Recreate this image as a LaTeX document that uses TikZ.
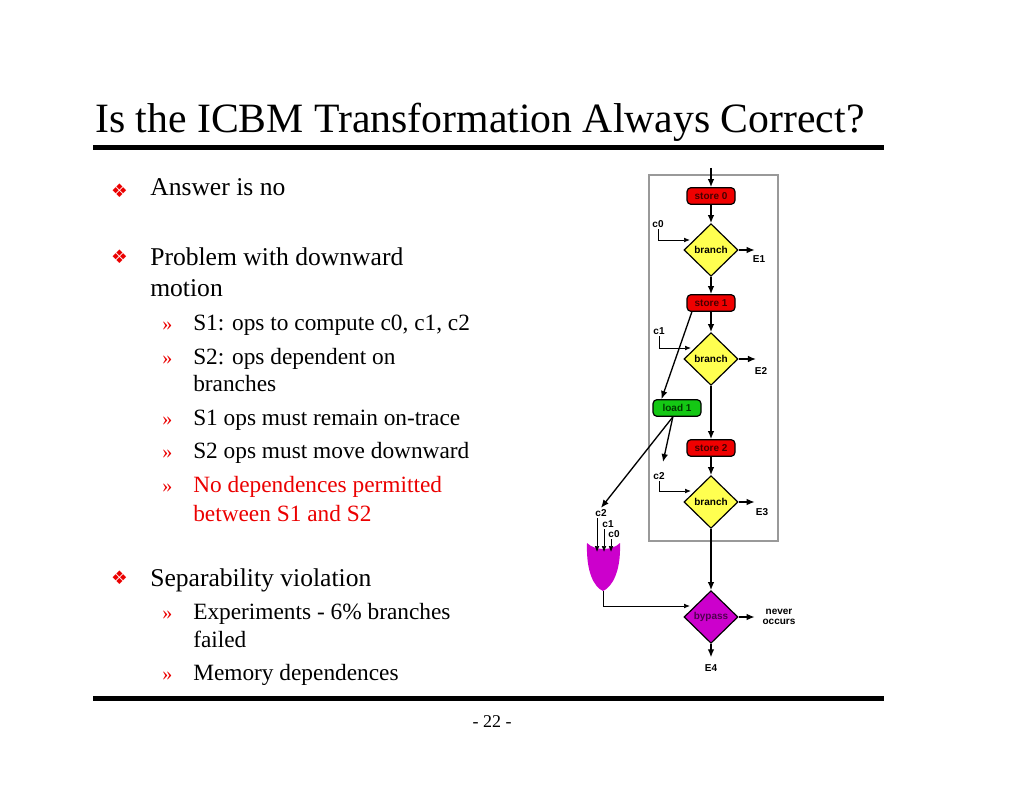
\documentclass[tikz,border=0pt]{standalone}
\usepackage{fontspec}
\setmainfont{Liberation Serif}
\setsansfont{Liberation Sans}
\newfontfamily\symfont{DejaVu Sans}
\usetikzlibrary{shapes.geometric,positioning,arrows.meta,arrows}
\definecolor{opred}{RGB}{240,0,0}
\definecolor{opredtext}{RGB}{70,0,0}
\definecolor{opgreen}{RGB}{20,200,20}
\definecolor{opgreentext}{RGB}{0,60,0}
\definecolor{bryellow}{RGB}{255,255,80}
\definecolor{gatepurple}{RGB}{204,0,204}
\definecolor{gatetext}{RGB}{80,0,80}
\definecolor{slidered}{RGB}{235,0,0}
\tikzset{
  slidetitle/.style={anchor=base west,inner sep=0pt,font=\fontsize{31.3}{36}\selectfont},
  bul/.style={anchor=base west,inner sep=0pt,font=\fontsize{19.2}{23}\selectfont},
  subbul/.style={anchor=base west,inner sep=0pt,font=\fontsize{17.5}{21}\selectfont},
  dia/.style={inner sep=0pt,text=slidered,font=\symfont\fontsize{14}{15}\selectfont},
  chev/.style={anchor=base west,inner sep=0pt,text=slidered,font=\fontsize{15}{16}\selectfont},
  tiny/.style={font=\sffamily\bfseries\fontsize{7.5}{8.5}\selectfont,inner sep=1pt},
  opbox/.style={tiny,rectangle,rounded corners=3pt,draw=black,line width=0.9pt,
    minimum width=36pt,minimum height=12.5pt,inner sep=0pt},
  store/.style={opbox,fill=opred,text=opredtext},
  load/.style={opbox,fill=opgreen,text=opgreentext},
  test/.style={tiny,diamond,draw=black,line width=0.9pt,fill=bryellow,
    minimum width=40.5pt,minimum height=39.5pt,inner sep=0pt},
  flow/.style={-{Latex[length=6pt,width=5pt]},line width=1pt},
  cond/.style={-{Latex[length=4.5pt,width=3.5pt]},line width=0.5pt}
}

\begin{document}
\begin{tikzpicture}[x=0.75pt,y=-0.75pt]
\useasboundingbox (0,0) rectangle (1024,791);

\node[slidetitle] (title) at (95,133) {Is the ICBM Transformation Always Correct?};
\draw[line width=3.75pt] (93,147.5) -- (884,147.5);
\draw[line width=3.75pt] (93,698) -- (884,698);
\node[anchor=base,inner sep=0pt,font=\fontsize{13.5}{16}\selectfont] (pageno) at (492,727) {- 22 -};

\node[dia] (d1) at (119.5,191) {❖};
\node[bul] (t1) at (150,196) {Answer is no};
\node[dia] (d2) at (119.5,257) {❖};
\node[bul] (t2) at (150,266) {Problem with downward};
\node[bul] (t2b) at (150,297) {motion};
\node[chev] (m1) at (162,331) {»};
\node[subbul] (u1) at (193,331) {S1: ops to compute c0, c1, c2};
\node[chev] (m2) at (162,364) {»};
\node[subbul] (u2) at (193,364) {S2: ops dependent on};
\node[subbul] (u2b) at (193,392) {branches};
\node[chev] (m3) at (162,425) {»};
\node[subbul] (u3) at (193,425) {S1 ops must remain on-trace};
\node[chev] (m4) at (162,458) {»};
\node[subbul] (u4) at (193,458) {S2 ops must move downward};
\node[chev] (m5) at (162,492) {»};
\node[subbul,text=slidered] (u5) at (193,492) {No dependences permitted};
\node[subbul,text=slidered] (u5b) at (193,521) {between S1 and S2};
\node[dia] (d3) at (119.5,578) {❖};
\node[bul] (t3) at (150,586) {Separability violation};
\node[chev] (m6) at (162,619) {»};
\node[subbul] (u6) at (193,619) {Experiments - 6\% branches};
\node[subbul] (u6b) at (193,647) {failed};
\node[chev] (m7) at (162,680) {»};
\node[subbul] (u7) at (193,680) {Memory dependences};

\draw[gray!80,line width=0.8pt] (649,175) rectangle (778,541);

\node[store] (s0) at (711,196) {store 0};
\node[test] (b1) at (711,250) {branch};
\node[store] (s1) at (711,303) {store 1};
\node[test] (b2) at (711,359) {branch};
\node[load] (l1) at (677,408) {load 1};
\node[store] (s2) at (711,448) {store 2};
\node[test] (b3) at (711,502) {branch};
\node[test,fill=gatepurple,text=gatetext] (bp) at (711,617) {bypass};

\node[tiny] (c0) at (658,224) {c0};
\node[tiny] (c1) at (659,331) {c1};
\node[tiny] (c2) at (659,476) {c2};
\node[tiny] (e1) at (759,259) {E1};
\node[tiny] (e2) at (761,371) {E2};
\node[tiny] (e3) at (762,512) {E3};
\node[tiny] (e4) at (711,668) {E4};
\node[tiny,align=center,font=\sffamily\bfseries\fontsize{7.5}{8}\selectfont] (nv) at (779,617) {never\\occurs};
\node[tiny] (gc2) at (601,513) {c2};
\node[tiny] (gc1) at (608,524) {c1};
\node[tiny] (gc0) at (614,534) {c0};

\coordinate (entry) at (711,168);
\coordinate[right=12pt of b1.east] (b1out);
\coordinate[right=13pt of b2.east] (b2out);
\coordinate[right=12pt of b3.east] (b3out);
\coordinate[right=12pt of bp.east] (bpout);
\coordinate[below=10pt of bp.south] (bpdown);
\coordinate (c0in) at (690,240);
\coordinate (c1in) at (691,348);
\coordinate (c2in) at (691,491);
\coordinate (c2top) at (663,462);
\coordinate (gin2) at (597,552);
\coordinate (gin1) at (604,552);
\coordinate (gin0) at (611,552);
\coordinate (gout) at (603,591);
\coordinate (bpin) at (690,606);

\fill[gatepurple] (587,543) .. controls (586,572) and (594,587) .. (gout)
  .. controls (612,587) and (621,572) .. (620,543)
  .. controls (612,551) and (595,551) .. cycle;

\draw[flow] (entry) -- (s0);
\draw[flow] (s0) -- (b1);
\draw[flow] (b1) -- (s1);
\draw[flow] (s1) -- (b2);
\draw[flow] (b2) -- (s2);
\draw[flow] (s2) -- (b3);
\draw[flow] (b3) -- (bp);
\draw[flow] (bp) -- (bpdown);
\draw[flow] (b1.east) -- (b1out);
\draw[flow] (b2.east) -- (b2out);
\draw[flow] (b3.east) -- (b3out);
\draw[flow] (bp.east) -- (bpout);
\draw[flow] (s1.-155) -- (l1.150);
\draw[flow] (l1.-115) -- (c2top);
\draw[flow] (l1.-115) -- (gc2.north);

\draw[cond] (c0.south) |- (c0in);
\draw[cond] (c1.south) |- (c1in);
\draw[cond] (c2.south) |- (c2in);
\draw[cond] (gin2 |- gc2.south) -- (gin2);
\draw[cond] (gin1 |- gc1.south) -- (gin1);
\draw[cond] (gin0 |- gc0.south) -- (gin0);
\draw[cond] (gout) |- (bpin);

\end{tikzpicture}
\end{document}
